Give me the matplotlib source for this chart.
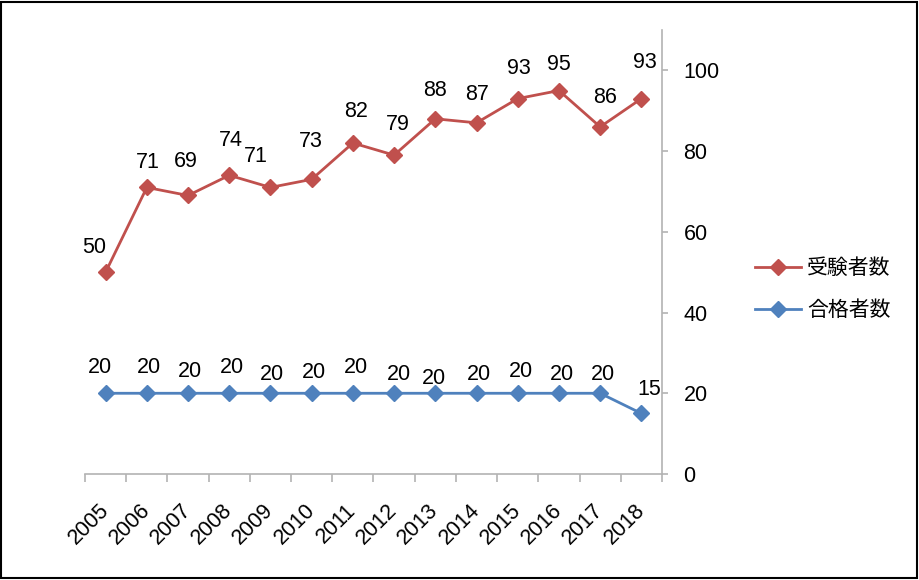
import matplotlib
matplotlib.use('Agg')
import matplotlib.pyplot as plt
import numpy as np
from matplotlib.patches import Rectangle

plt.rcParams['font.family'] = ['Liberation Sans', 'Noto Sans CJK JP', 'DejaVu Sans']

years = ['2005', '2006', '2007', '2008', '2009', '2010', '2011',
         '2012', '2013', '2014', '2015', '2016', '2017', '2018']
examinees = [50, 71, 69, 74, 71, 73, 82, 79, 88, 87, 93, 95, 86, 93]
passers = [20, 20, 20, 20, 20, 20, 20, 20, 20, 20, 20, 20, 20, 15]
y_ticks = [0, 20, 40, 60, 80, 100]

# data label offsets in pixels (dx, dy to label centre)
red_offsets = [(-11, 27), (1, 27), (-2, 36), (2, 37), (-15, 33), (-1, 40), (3, 34),
               (4, 33), (0, 31), (1, 31), (1, 33), (0, 29), (5, 32), (3, 39)]
blue_offsets = [(-6, 28), (2, 28), (2, 24), (3, 28), (1, 21), (2, 23), (3, 28),
                (5, 21), (-1, 17), (2, 21), (3, 24), (3, 21), (3, 21), (8, 26)]

RED = '#C0504D'
BLUE = '#4F81BD'
GRAY = '#B3B3B3'
FS = 15.5

fig = plt.figure(figsize=(9.2, 5.8), dpi=100)
ax = fig.add_axes([85 / 920, 106 / 580, 577 / 920, 444 / 580])

x = np.arange(len(years))
ax.plot(x, examinees, color=RED, lw=2, marker='D', ms=8.5, label='受験者数')
ax.plot(x, passers, color=BLUE, lw=2, marker='D', ms=8.5, label='合格者数')

for vals, offs in ((examinees, red_offsets), (passers, blue_offsets)):
    for i, (v, (dx, dy)) in enumerate(zip(vals, offs)):
        ax.annotate(str(v), (i, v), xytext=(dx, dy - 8), textcoords='offset pixels',
                    ha='center', va='baseline', fontsize=FS)

ax.set_xlim(-0.5, len(years) - 0.5)
ax.set_ylim(0, 110)

for s in ('left', 'top'):
    ax.spines[s].set_visible(False)
for s in ('right', 'bottom'):
    ax.spines[s].set_color(GRAY)
    ax.spines[s].set_linewidth(1.2)

ax.yaxis.tick_right()
ax.set_yticks(y_ticks)
ax.tick_params(axis='y', length=4.5, color=GRAY, width=1.2, pad=11, labelsize=FS)

ax.set_xticks(x)
ax.set_xticklabels(years, rotation=45, ha='right', va='center',
                   rotation_mode='anchor', fontsize=FS)
ax.set_xticks(np.arange(-0.5, len(years), 1), minor=True)
ax.tick_params(axis='x', which='major', length=0, pad=24)
ax.tick_params(axis='x', which='minor', length=6, color=GRAY, width=1.2)

ax.legend(loc='center left', bbox_to_anchor=(755 / 920, 1 - 289 / 580),
          bbox_transform=fig.transFigure, frameon=False, borderpad=0,
          borderaxespad=0, handlelength=2.2, handletextpad=0.3,
          labelspacing=0.95, prop={'family': ['Noto Sans CJK JP'], 'size': 15})

fig.add_artist(Rectangle((1 / 920, 2 / 580), 916 / 920, 576 / 580,
                         transform=fig.transFigure, fill=False, lw=1.5, ec='black'))

fig.savefig('out.png', dpi=100)
